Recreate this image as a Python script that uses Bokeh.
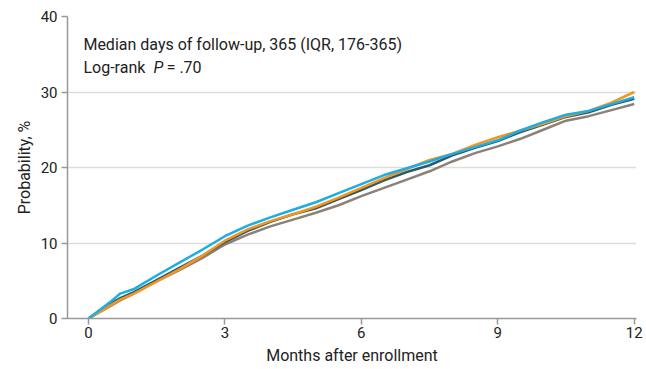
from bokeh.plotting import figure
from bokeh.models import Label, FixedTicker, Range1d
from bokeh.embed import file_html
from bokeh.resources import INLINE

months = [0, 0.5, 0.7, 1, 1.5, 2, 2.5, 3, 3.5, 4, 4.5, 5, 5.5, 6, 6.5, 7, 7.5, 8, 8.5, 9, 9.5, 10, 10.5, 11, 11.5, 12]
blue =   [0, 2.3, 3.3, 3.9, 5.7, 7.4, 9.1, 10.9, 12.3, 13.4, 14.4, 15.4, 16.6, 17.8, 19.0, 19.9, 20.8, 21.8, 22.7, 23.6, 24.9, 26.0, 27.0, 27.5, 28.4, 29.3]
orange = [0, 1.8, 2.5, 3.3, 4.9, 6.5, 8.3, 10.3, 11.8, 12.9, 13.8, 14.8, 16.0, 17.3, 18.6, 19.8, 21.0, 21.8, 23.0, 24.0, 24.9, 25.8, 26.8, 27.5, 28.6, 30.0]
teal =   [0, 2.0, 2.7, 3.5, 5.1, 6.7, 8.3, 10.1, 11.6, 12.8, 13.8, 14.6, 15.8, 17.0, 18.3, 19.4, 20.3, 21.6, 22.6, 23.5, 24.7, 25.7, 26.7, 27.3, 28.3, 29.1]
grey =   [0, 1.7, 2.4, 3.3, 4.9, 6.4, 8.0, 9.8, 11.1, 12.2, 13.1, 14.0, 15.0, 16.2, 17.3, 18.4, 19.5, 20.8, 21.9, 22.8, 23.8, 25.0, 26.2, 26.8, 27.6, 28.4]

x_ticks = [0, 3, 6, 9, 12]
y_ticks = [0, 10, 20, 30, 40]
note1 = "Median days of follow-up, 365 (IQR, 176-365)"

FONT = "Roboto"

p = figure(width=646, height=369, output_backend="svg", toolbar_location=None,
           x_range=Range1d(-0.46, 12.05), y_range=Range1d(0, 40),
           min_border_left=67, min_border_right=10, min_border_top=16, min_border_bottom=51)
p.outline_line_color = None
p.xgrid.grid_line_color = None
p.ygrid.grid_line_color = "#dddddd"
p.ygrid.grid_line_width = 1.5

for ax in (p.xaxis[0], p.yaxis[0]):
    ax.axis_line_color = "#999999"
    ax.axis_line_width = 1.5
    ax.major_tick_line_color = "#999999"
    ax.major_tick_line_width = 1.5
    ax.major_tick_in = 0
    ax.major_tick_out = 6
    ax.minor_tick_line_color = None
    ax.major_label_text_font = FONT
    ax.major_label_text_font_size = "15px"
    ax.major_label_text_color = "#222222"
    ax.axis_label_text_font = FONT
    ax.axis_label_text_font_size = "16px"
    ax.axis_label_text_font_style = "normal"
    ax.axis_label_text_color = "#222222"

p.xaxis.ticker = FixedTicker(ticks=x_ticks)
p.yaxis.ticker = FixedTicker(ticks=y_ticks)
p.xaxis.axis_label = "Months after enrollment"
p.yaxis.axis_label = "Probability, %"
p.xaxis.major_label_standoff = 2
p.yaxis.major_label_standoff = 4
p.xaxis.axis_label_standoff = 5
p.yaxis.axis_label_standoff = 4

lw = 2.5
p.line(months, grey, line_color="#8B8178", line_width=lw)
p.line(months, teal, line_color="#2E5A66", line_width=lw)
p.line(months, orange, line_color="#F7941D", line_width=lw)
p.line(months, blue, line_color="#19AEE6", line_width=lw)

common = dict(text_font=FONT, text_font_size="16px", text_color="#222222", text_baseline="middle")
p.add_layout(Label(x=-0.11, y=36.3, text=note1, **common))
p.add_layout(Label(x=-0.11, y=33.2, text="Log-rank", **common))
p.add_layout(Label(x=1.43, y=33.2, text="P", text_font_style="italic", **common))
p.add_layout(Label(x=1.72, y=33.2, text="= .70", **common))

open("out.html", "w").write(file_html(p, INLINE))
